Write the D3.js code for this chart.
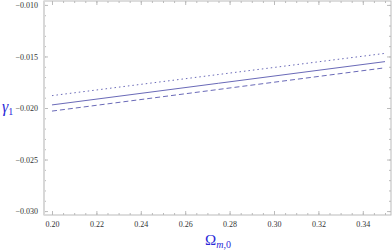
<!DOCTYPE html>
<html>
<head>
<meta charset="utf-8">
<script src="https://cdn.jsdelivr.net/npm/d3@7"></script>
<style>
  body { margin: 0; background: #fff; }
  svg { display: block; }
  .tick text { font-family: "Liberation Serif", serif; font-size: 8px; fill: #333; }
</style>
</head>
<body>
<svg width="392" height="252"></svg>
<script>
// data
const omega = [0.20, 0.275, 0.35];
const solid = [-0.0197, -0.0176, -0.0155];
const dotted = [-0.0188, -0.01675, -0.0147];
const dashed = [-0.0203, -0.0182, -0.0161];
const xTicks = [0.20, 0.22, 0.24, 0.26, 0.28, 0.30, 0.32, 0.34];
const yTicks = [-0.030, -0.025, -0.020, -0.015, -0.010];

const svg = d3.select("svg");
const mLeft = 44, mRight = 391, mTop = 1, mBottom = 215;

const x = d3.scaleLinear().domain([0.1964, 0.3527]).range([mLeft, mRight]);
const y = d3.scaleLinear().domain([-0.03038, -0.00962]).range([mBottom, mTop]);

const frameColor = "#bbb";

// minor ticks
const xMinor = d3.range(0.20, 0.3501, 0.005);
const yMinor = d3.range(-0.030, -0.0099, 0.001);

function axisGroup(axis, tx, ty, labels) {
  const g = svg.append("g").attr("transform", `translate(${tx},${ty})`).call(axis);
  g.select(".domain").remove();
  g.selectAll(".tick line").attr("stroke", frameColor);
  if (!labels) g.selectAll(".tick text").remove();
  return g;
}

// major ticks with labels (inward)
axisGroup(d3.axisBottom(x).tickValues(xTicks).tickSize(-4).tickPadding(6).tickFormat(d3.format(".2f")), 0, mBottom, true);
axisGroup(d3.axisLeft(y).tickValues(yTicks).tickSize(-4).tickPadding(6).tickFormat(d => "\u2212" + d3.format(".3f")(-d)), mLeft, 0, true);
axisGroup(d3.axisTop(x).tickValues(xTicks).tickSize(-4), 0, mTop, false);
axisGroup(d3.axisRight(y).tickValues(yTicks).tickSize(-4), mRight, 0, false);
// minor ticks
axisGroup(d3.axisBottom(x).tickValues(xMinor).tickSize(-2), 0, mBottom, false);
axisGroup(d3.axisLeft(y).tickValues(yMinor).tickSize(-2), mLeft, 0, false);
axisGroup(d3.axisTop(x).tickValues(xMinor).tickSize(-2), 0, mTop, false);
axisGroup(d3.axisRight(y).tickValues(yMinor).tickSize(-2), mRight, 0, false);

// frame
svg.append("rect")
  .attr("x", mLeft).attr("y", mTop)
  .attr("width", mRight - mLeft).attr("height", mBottom - mTop)
  .attr("fill", "none").attr("stroke", frameColor).attr("stroke-width", 1);
svg.append("line")
  .attr("x1", mLeft).attr("x2", mLeft).attr("y1", mTop).attr("y2", mBottom)
  .attr("stroke", "#d8d8d8").attr("stroke-width", 2);

// curves
const line = d3.line().x((d, i) => x(omega[i])).y(d => y(d));
const lineColor = "#6a6ab8";
[[solid, null], [dotted, "1.5,3"], [dashed, "5,3"]].forEach(([vals, dash]) => {
  svg.append("path")
    .datum(vals)
    .attr("d", line)
    .attr("fill", "none")
    .attr("stroke", lineColor)
    .attr("stroke-width", 1)
    .attr("stroke-dasharray", dash);
});

// axis labels
svg.append("text")
  .attr("x", 2).attr("y", 112)
  .attr("font-family", "Liberation Serif, serif").attr("font-size", 16)
  .attr("fill", "#2a2ad8")
  .html('<tspan font-style="italic">γ</tspan><tspan font-size="10" dy="3">1</tspan>');
svg.append("text")
  .attr("x", 205).attr("y", 245)
  .attr("font-family", "Liberation Serif, serif").attr("font-size", 15)
  .attr("fill", "#2a2ad8")
  .html('Ω<tspan font-size="10" dy="3"><tspan font-style="italic">m</tspan>,0</tspan>');
</script>
</body>
</html>
